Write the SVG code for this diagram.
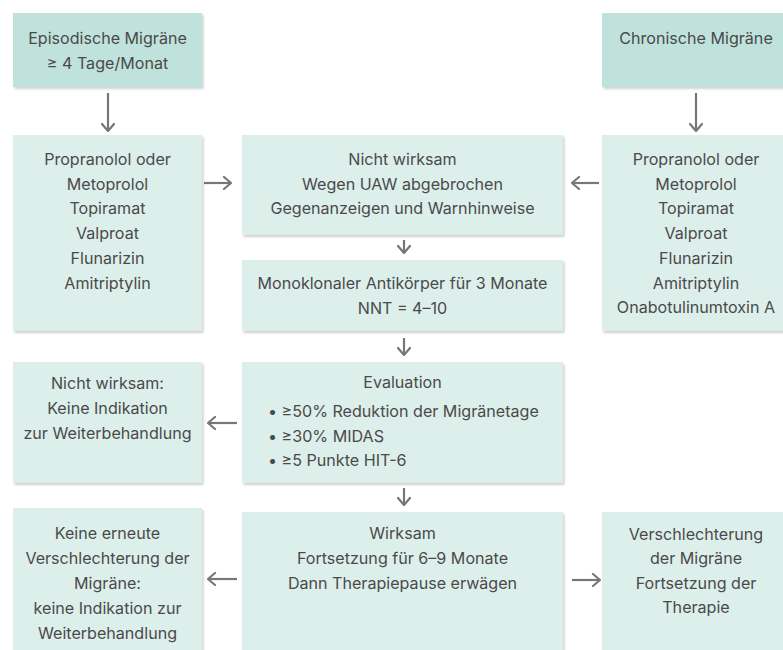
<svg xmlns="http://www.w3.org/2000/svg" width="783" height="650" viewBox="0 0 783 650">
<defs>
<filter id="sh" x="-5%" y="-5%" width="115%" height="115%">
<feDropShadow dx="1.5" dy="2" stdDeviation="1.3" flood-color="#000" flood-opacity="0.18"/>
</filter>
<marker id="ah" viewBox="0 0 10 14" refX="9" refY="7" markerWidth="10" markerHeight="14" markerUnits="userSpaceOnUse" orient="auto">
<path d="M2,1 L9,7 L2,13" fill="none" stroke="#777" stroke-width="2.2" stroke-linecap="round" stroke-linejoin="round"/>
</marker>
<style>
.hd{fill:#bfe3dc;filter:url(#sh)}
.bx{fill:#ddefea;filter:url(#sh)}
text{font-family:Inter,"Liberation Sans",Arial,sans-serif;font-size:16.1px;fill:#4a4a4a}
.c{text-anchor:middle}
.cn line{stroke:#777;stroke-width:2.2;marker-end:url(#ah)}
</style>
</defs>
<rect width="783" height="650" fill="#fff"/>

<g id="episodisch">
<rect class="hd" x="13" y="13" width="189" height="74"/>
<text class="c" x="107.5" y="44">Episodische Migräne</text>
<text class="c" x="107.5" y="69">≥ 4 Tage/Monat</text>
</g>

<g id="chronisch">
<rect class="hd" x="602" y="13" width="190" height="74"/>
<text class="c" x="696" y="44">Chronische Migräne</text>
</g>

<g id="therapie-links">
<rect class="bx" x="13" y="135" width="189" height="196"/>
<text class="c" x="107.5" y="165">Propranolol oder</text>
<text class="c" x="107.5" y="189.7">Metoprolol</text>
<text class="c" x="107.5" y="214.4">Topiramat</text>
<text class="c" x="107.5" y="239.1">Valproat</text>
<text class="c" x="107.5" y="263.8">Flunarizin</text>
<text class="c" x="107.5" y="288.5">Amitriptylin</text>
</g>

<g id="nicht-wirksam-mitte">
<rect class="bx" x="242" y="135" width="321" height="100"/>
<text class="c" x="402.5" y="165">Nicht wirksam</text>
<text class="c" x="402.5" y="189.7">Wegen UAW abgebrochen</text>
<text class="c" x="402.5" y="214.4">Gegenanzeigen und Warnhinweise</text>
</g>

<g id="therapie-rechts">
<rect class="bx" x="602" y="135" width="190" height="196"/>
<text class="c" x="696" y="165">Propranolol oder</text>
<text class="c" x="696" y="189.7">Metoprolol</text>
<text class="c" x="696" y="214.4">Topiramat</text>
<text class="c" x="696" y="239.1">Valproat</text>
<text class="c" x="696" y="263.8">Flunarizin</text>
<text class="c" x="696" y="288.5">Amitriptylin</text>
<text class="c" x="696" y="313.2">Onabotulinumtoxin A</text>
</g>

<g id="antikoerper">
<rect class="bx" x="242" y="260" width="321" height="71"/>
<text class="c" x="402.5" y="289">Monoklonaler Antikörper für 3 Monate</text>
<text class="c" x="402.5" y="313.7">NNT = 4–10</text>
</g>

<g id="nicht-wirksam-links">
<rect class="bx" x="13" y="362" width="189" height="121"/>
<text class="c" x="107.5" y="389">Nicht wirksam:</text>
<text class="c" x="107.5" y="414">Keine Indikation</text>
<text class="c" x="107.5" y="439">zur Weiterbehandlung</text>
</g>

<g id="evaluation">
<rect class="bx" x="242" y="362" width="321" height="121"/>
<text class="c" x="402.5" y="388">Evaluation</text>
<text x="268" y="417">• ≥50% Reduktion der Migränetage</text>
<text x="268" y="441.5">• ≥30% MIDAS</text>
<text x="268" y="466">• ≥5 Punkte HIT-6</text>
</g>

<g id="keine-verschlechterung">
<rect class="bx" x="13" y="508" width="189" height="150"/>
<text class="c" x="107.5" y="539">Keine erneute</text>
<text class="c" x="107.5" y="564">Verschlechterung der</text>
<text class="c" x="107.5" y="589">Migräne:</text>
<text class="c" x="107.5" y="614">keine Indikation zur</text>
<text class="c" x="107.5" y="638.5">Weiterbehandlung</text>
</g>

<g id="wirksam">
<rect class="bx" x="242" y="512" width="321" height="146"/>
<text class="c" x="402.5" y="539">Wirksam</text>
<text class="c" x="402.5" y="564">Fortsetzung für 6–9 Monate</text>
<text class="c" x="402.5" y="589">Dann Therapiepause erwägen</text>
</g>

<g id="verschlechterung">
<rect class="bx" x="602" y="512" width="190" height="146"/>
<text class="c" x="696" y="540">Verschlechterung</text>
<text class="c" x="696" y="564">der Migräne</text>
<text class="c" x="696" y="588.5">Fortsetzung der</text>
<text class="c" x="696" y="612.5">Therapie</text>
</g>

<g id="connectors" class="cn">
<line x1="108" y1="93" x2="108" y2="131"/>
<line x1="696" y1="93" x2="696" y2="131"/>
<line x1="204" y1="183" x2="231" y2="183"/>
<line x1="599" y1="183" x2="572" y2="183"/>
<line x1="404" y1="240" x2="404" y2="253"/>
<line x1="404" y1="338" x2="404" y2="355"/>
<line x1="237" y1="423" x2="208" y2="423"/>
<line x1="404" y1="488" x2="404" y2="505"/>
<line x1="237" y1="579" x2="208" y2="579"/>
<line x1="572" y1="580" x2="600" y2="580"/>
</g>
</svg>
